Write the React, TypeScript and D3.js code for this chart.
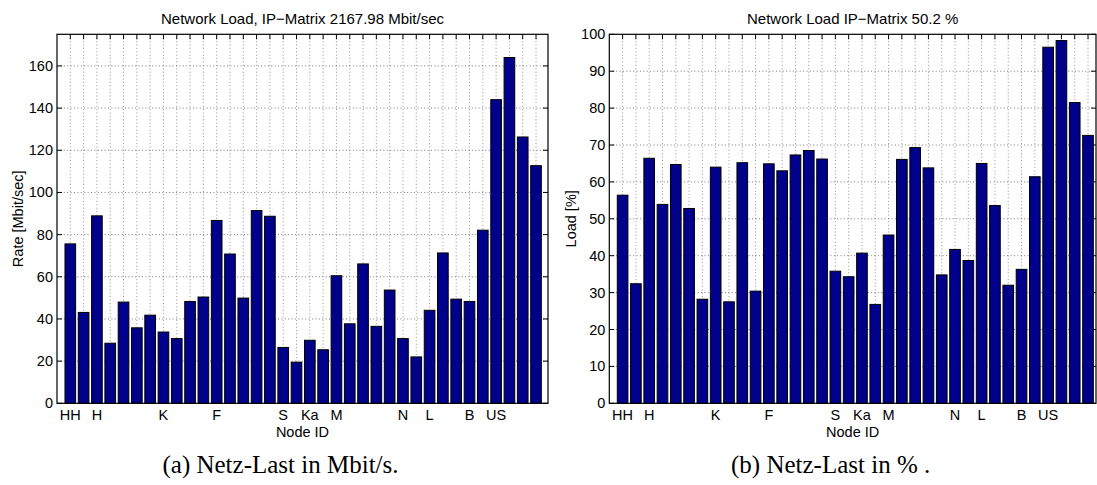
import React from 'react';
import * as d3 from 'd3';

const xTickLabels: string[] = ['HH', '', 'H', '', '', '', '', 'K', '', '', '', 'F', '', '', '', '', 'S', '', 'Ka', '', 'M', '', '', '', '', 'N', '', 'L', '', '', 'B', '', 'US', '', '', ''];
const nodePositions: number[] = [1, 2, 3, 4, 5, 6, 7, 8, 9, 10, 11, 12, 13, 14, 15, 16, 17, 18, 19, 20, 21, 22, 23, 24, 25, 26, 27, 28, 29, 30, 31, 32, 33, 34, 35, 36];

const rateValues: number[] = [75.6, 43.1, 88.9, 28.5, 48.0, 35.8, 41.8, 33.8, 30.7, 48.3, 50.4, 86.7, 70.8, 49.9, 91.4, 88.7, 26.5, 19.5, 29.9, 25.4, 60.5, 37.7, 66.1, 36.5, 53.7, 30.7, 22.0, 44.1, 71.3, 49.4, 48.3, 82.1, 144.0, 164.0, 126.3, 112.7];
const loadValues: number[] = [56.4, 32.4, 66.4, 53.9, 64.7, 52.8, 28.2, 64.0, 27.5, 65.2, 30.4, 64.9, 63.0, 67.3, 68.5, 66.2, 35.8, 34.3, 40.7, 26.8, 45.6, 66.1, 69.3, 63.8, 34.8, 41.7, 38.7, 65.0, 53.6, 32.0, 36.3, 61.4, 96.5, 98.3, 81.5, 72.6];

const rateTicks: number[] = [0, 20, 40, 60, 80, 100, 120, 140, 160];
const loadTicks: number[] = [0, 10, 20, 30, 40, 50, 60, 70, 80, 90, 100];

const SANS = '"Liberation Sans", Arial, Helvetica, sans-serif';
const SERIF = '"Liberation Serif", "Times New Roman", serif';
const BAR = '#00008b';

type PanelProps = {
  left: number; right: number; top: number; bottom: number;
  xMax: number; yMax: number; yTicks: number[]; values: number[];
  title: string; yLabel: string; yLabelX: number; caption: string;
};

function Panel(p: PanelProps) {
  const x = d3.scaleLinear().domain([0, p.xMax]).range([p.left, p.right]);
  const y = d3.scaleLinear().domain([0, p.yMax]).range([p.bottom, p.top]);
  const bw = (x(1) - x(0)) * 0.8;
  const cx = (p.left + p.right) / 2;
  const cy = (p.top + p.bottom) / 2;
  return (
    <g>
      <text x={cx} y={23.5} textAnchor="middle" fontFamily={SANS} fontSize={15} fill="#000">{p.title}</text>
      {/* grid */}
      {nodePositions.map((n) => (
        <line key={'vg' + n} x1={x(n)} x2={x(n)} y1={p.top} y2={p.bottom} stroke="#777" strokeWidth={0.8} strokeDasharray="1,2.4" />
      ))}
      {p.yTicks.filter((t) => t > 0 && t < p.yMax).map((t) => (
        <line key={'hg' + t} x1={p.left} x2={p.right} y1={y(t)} y2={y(t)} stroke="#555" strokeWidth={0.8} strokeDasharray="1,2.4" />
      ))}
      {/* ticks */}
      {nodePositions.map((n) => (
        <g key={'xt' + n}>
          <line x1={x(n)} x2={x(n)} y1={p.top} y2={p.top + 5} stroke="#000" strokeWidth={1} />
          <line x1={x(n)} x2={x(n)} y1={p.bottom} y2={p.bottom - 5} stroke="#000" strokeWidth={1} />
        </g>
      ))}
      {p.yTicks.map((t) => (
        <g key={'yt' + t}>
          <line x1={p.left} x2={p.left + 5} y1={y(t)} y2={y(t)} stroke="#000" strokeWidth={1} />
          <line x1={p.right} x2={p.right - 5} y1={y(t)} y2={y(t)} stroke="#000" strokeWidth={1} />
          <text x={p.left - 4} y={y(t) + 5} textAnchor="end" fontFamily={SANS} fontSize={14.5} fill="#000">{t}</text>
        </g>
      ))}
      {/* bars */}
      {p.values.map((v, i) => (
        <rect key={'b' + i} x={x(nodePositions[i]) - bw / 2} y={y(v)} width={bw} height={y(0) - y(v)} fill={BAR} stroke="#000" strokeWidth={1} />
      ))}
      {/* frame */}
      <rect x={p.left} y={p.top} width={p.right - p.left} height={p.bottom - p.top} fill="none" stroke="#000" strokeWidth={1.2} />
      {/* x tick labels */}
      {nodePositions.map((n, i) => xTickLabels[i] ? (
        <text key={'xl' + n} x={x(n)} y={p.bottom + 17} textAnchor="middle" fontFamily={SANS} fontSize={14.5} fill="#000">{xTickLabels[i]}</text>
      ) : null)}
      <text x={cx} y={437} textAnchor="middle" fontFamily={SANS} fontSize={14.5} fill="#000">Node ID</text>
      <text transform={`translate(${p.yLabelX},${cy}) rotate(-90)`} textAnchor="middle" fontFamily={SANS} fontSize={14.5} fill="#000">{p.yLabel}</text>
      <text x={cx - 22} y={473} textAnchor="middle" fontFamily={SERIF} fontSize={25} fill="#000">{p.caption}</text>
    </g>
  );
}

export default function App() {
  return (
    <svg width={1097} height={485} style={{ position: 'absolute', left: 0, top: 0, background: '#fff' }}>
      <rect x={0} y={0} width={1097} height={485} fill="#fff" />
      <Panel left={57} right={548} top={34.3} bottom={403.3} xMax={36.9} yMax={175} yTicks={rateTicks} values={rateValues}
        title="Network Load, IP−Matrix 2167.98 Mbit/sec" yLabel="Rate [Mbit/sec]" yLabelX={23} caption="(a) Netz-Last in Mbit/s." />
      <Panel left={609.3} right={1096} top={34.3} bottom={403.3} xMax={36.6} yMax={100} yTicks={loadTicks} values={loadValues}
        title="Network Load IP−Matrix 50.2 %" yLabel="Load [%]" yLabelX={576} caption="(b) Netz-Last in % ." />
    </svg>
  );
}
